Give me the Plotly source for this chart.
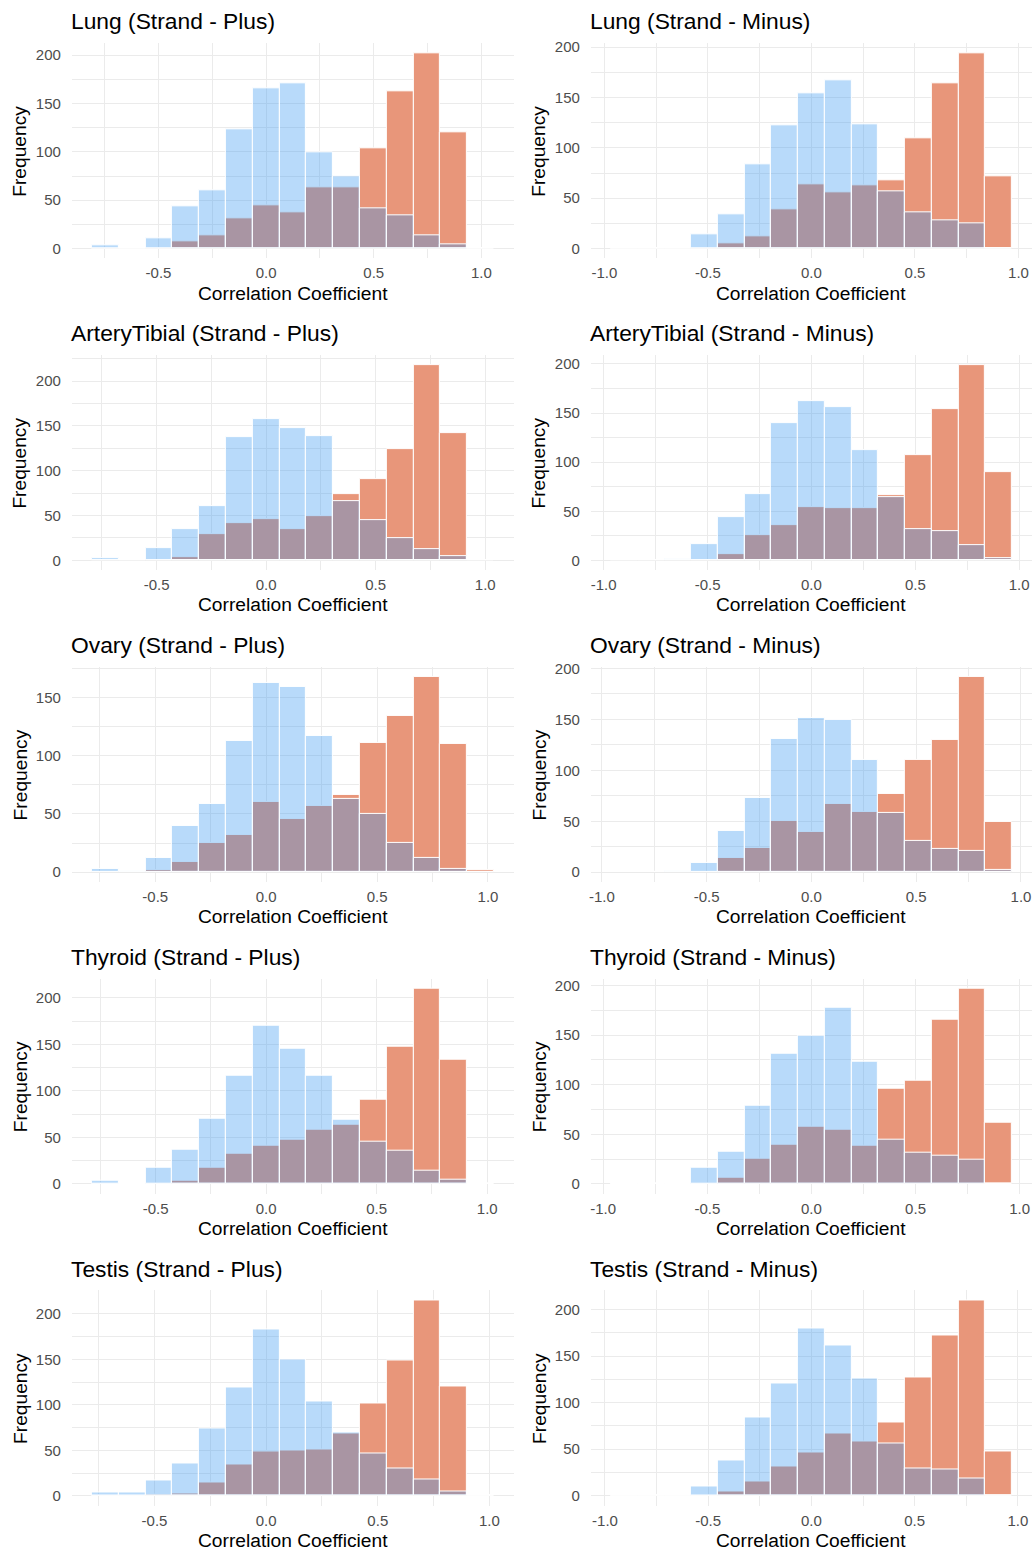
import plotly.graph_objects as go
import numpy as np

# ---------------- data ----------------
panel_titles = [
    "Lung (Strand - Plus)", "Lung (Strand - Minus)",
    "ArteryTibial (Strand - Plus)", "ArteryTibial (Strand - Minus)",
    "Ovary (Strand - Plus)", "Ovary (Strand - Minus)",
    "Thyroid (Strand - Plus)", "Thyroid (Strand - Minus)",
    "Testis (Strand - Plus)", "Testis (Strand - Minus)",
]
# histogram bin width (data range / 14) and index of first bin centre (centre = k * width)
bin_width = [0.1245, 0.1291, 0.1223, 0.1287, 0.1208, 0.1276, 0.1212, 0.1284, 0.1200, 0.1295]
first_bin = [-6, -7, -6, -7, -6, -7, -6, -7, -6, -7]

# counts per bin (15 bins each), blue series and orange series
blue_counts = [
    [3, 0, 11, 44, 60, 123, 166, 171, 99, 75, 42, 34, 14, 4, 0],
    [0, 0, 0, 14, 34, 84, 122, 154, 167, 123, 57, 36, 28, 25, 0],
    [3, 0, 14, 35, 61, 137, 158, 147, 139, 66, 45, 25, 13, 5, 0],
    [0, 0, 1, 17, 44, 67, 140, 162, 156, 112, 64, 32, 30, 16, 2],
    [3, 1, 12, 40, 59, 113, 163, 159, 117, 63, 50, 25, 12, 3, 0],
    [0, 0, 1, 9, 41, 73, 131, 152, 150, 110, 58, 31, 23, 21, 2],
    [4, 0, 18, 37, 70, 116, 170, 145, 116, 69, 45, 36, 14, 5, 0],
    [0, 0, 0, 16, 33, 79, 131, 149, 178, 123, 45, 32, 28, 24, 0],
    [4, 4, 17, 35, 74, 119, 183, 150, 104, 70, 46, 30, 18, 5, 0],
    [0, 0, 0, 10, 38, 84, 121, 180, 161, 126, 56, 29, 28, 19, 0],
]
orange_counts = [
    [0, 0, 0, 8, 14, 31, 45, 37, 63, 63, 104, 163, 202, 120, 0],
    [0, 0, 0, 0, 5, 12, 39, 64, 56, 63, 68, 109, 164, 194, 72],
    [0, 0, 0, 4, 29, 41, 46, 35, 49, 74, 91, 124, 218, 142, 0],
    [0, 0, 0, 0, 6, 26, 36, 54, 53, 53, 66, 107, 154, 199, 90],
    [0, 0, 2, 9, 25, 32, 60, 46, 57, 66, 111, 134, 168, 110, 2],
    [0, 0, 0, 0, 14, 24, 50, 40, 67, 59, 77, 110, 130, 192, 49],
    [0, 0, 0, 3, 17, 32, 41, 48, 58, 64, 91, 147, 210, 133, 0],
    [0, 0, 0, 0, 6, 25, 40, 58, 55, 39, 96, 104, 166, 197, 62],
    [0, 0, 1, 2, 15, 34, 49, 50, 51, 68, 102, 149, 215, 120, 0],
    [0, 0, 0, 0, 5, 15, 31, 46, 67, 58, 79, 127, 172, 210, 48],
]

x_tick_vals = [-1.0, -0.5, 0.0, 0.5, 1.0]
x_tick_text = ["-1.0", "-0.5", "0.0", "0.5", "1.0"]
x_minor_vals = [-0.75, -0.25, 0.25, 0.75]
x_label = "Correlation Coefficient"
y_label = "Frequency"

# ---------------- style ----------------
W, H = 1033, 1553
FONT = "Liberation Sans, Arial, Helvetica, sans-serif"
BLUE = "rgba(52,149,241,0.35)"
ORANGE = "rgb(232,150,122)"
GRID = "#EBEBEB"
TICK_COLOR = "#4D4D4D"

col_x = [(70, 513), (590, 1032)]
row_top0, row_step, panel_h = 36.5, 313.2, 216

fig = go.Figure()
annotations = []
layout_axes = {}

for i in range(10):
    r, c = divmod(i, 2)
    ax = "" if i == 0 else str(i + 1)
    w = bin_width[i]
    k = np.arange(first_bin[i], first_bin[i] + 15)
    centers = k * w
    b = blue_counts[i]
    o = orange_counts[i]

    fig.add_trace(go.Bar(
        x=centers, y=o, width=w,
        marker=dict(color=ORANGE, line=dict(color="white", width=1)),
        xaxis="x" + ax, yaxis="y" + ax, showlegend=False, hoverinfo="skip",
    ))
    fig.add_trace(go.Bar(
        x=centers, y=b, width=w,
        marker=dict(color=BLUE, line=dict(color="white", width=1)),
        xaxis="x" + ax, yaxis="y" + ax, showlegend=False, hoverinfo="skip",
    ))

    x0p, x1p = col_x[c]
    top = row_top0 + row_step * r
    bot = top + panel_h
    xdom = [x0p / W, x1p / W]
    ydom = [1 - bot / H, 1 - top / H]

    lo = (first_bin[i] - 0.5) * w
    hi = (first_bin[i] + 14.5) * w
    pad = 0.05 * (hi - lo)
    ymax = max(max(b), max(o))

    layout_axes["xaxis" + ax] = dict(
        domain=xdom, anchor="y" + ax, range=[lo - pad, hi + pad],
        tickmode="array", tickvals=x_tick_vals, ticktext=x_tick_text,
        showgrid=True, gridcolor=GRID, gridwidth=1.4,
        minor=dict(tickmode="array", tickvals=x_minor_vals, showgrid=True,
                   gridcolor=GRID, gridwidth=0.7),
        zeroline=False, showline=False, ticks="",
        tickfont=dict(family=FONT, size=15, color=TICK_COLOR),
        ticklabelstandoff=4, fixedrange=True,
    )
    layout_axes["yaxis" + ax] = dict(
        domain=ydom, anchor="x" + ax, range=[-0.05 * ymax, 1.05 * ymax],
        tick0=0, dtick=50,
        showgrid=True, gridcolor=GRID, gridwidth=1.4,
        minor=dict(tick0=25, dtick=25, showgrid=True, gridcolor=GRID, gridwidth=0.7),
        zeroline=False, showline=False, ticks="",
        tickfont=dict(family=FONT, size=15, color=TICK_COLOR),
        ticklabelstandoff=10, fixedrange=True,
    )

    # panel title
    annotations.append(dict(
        text=panel_titles[i], xref="paper", yref="paper",
        x=(x0p - 3) / W, y=1 - (top - 22) / H, xanchor="left", yanchor="middle",
        showarrow=False, font=dict(family=FONT, size=22.8, color="black"),
    ))
    # x axis title
    annotations.append(dict(
        text=x_label, xref="paper", yref="paper",
        x=(x0p + x1p) / 2 / W, y=1 - (bot + 35) / H, xanchor="center", yanchor="middle",
        showarrow=False, font=dict(family=FONT, size=19.2, color="black"),
    ))
    # y axis title
    annotations.append(dict(
        text=y_label, xref="paper", yref="paper",
        x=(x0p - 52) / W, y=1 - ((top + bot) / 2) / H, xanchor="center", yanchor="middle",
        textangle=-90, showarrow=False, font=dict(family=FONT, size=19.2, color="black"),
    ))

fig.update_layout(
    width=W, height=H, margin=dict(l=0, r=0, t=0, b=0),
    paper_bgcolor="white", plot_bgcolor="white",
    barmode="overlay", bargap=0, showlegend=False,
    annotations=annotations, **layout_axes,
)

fig.write_html("out.html", config={"displayModeBar": False})
